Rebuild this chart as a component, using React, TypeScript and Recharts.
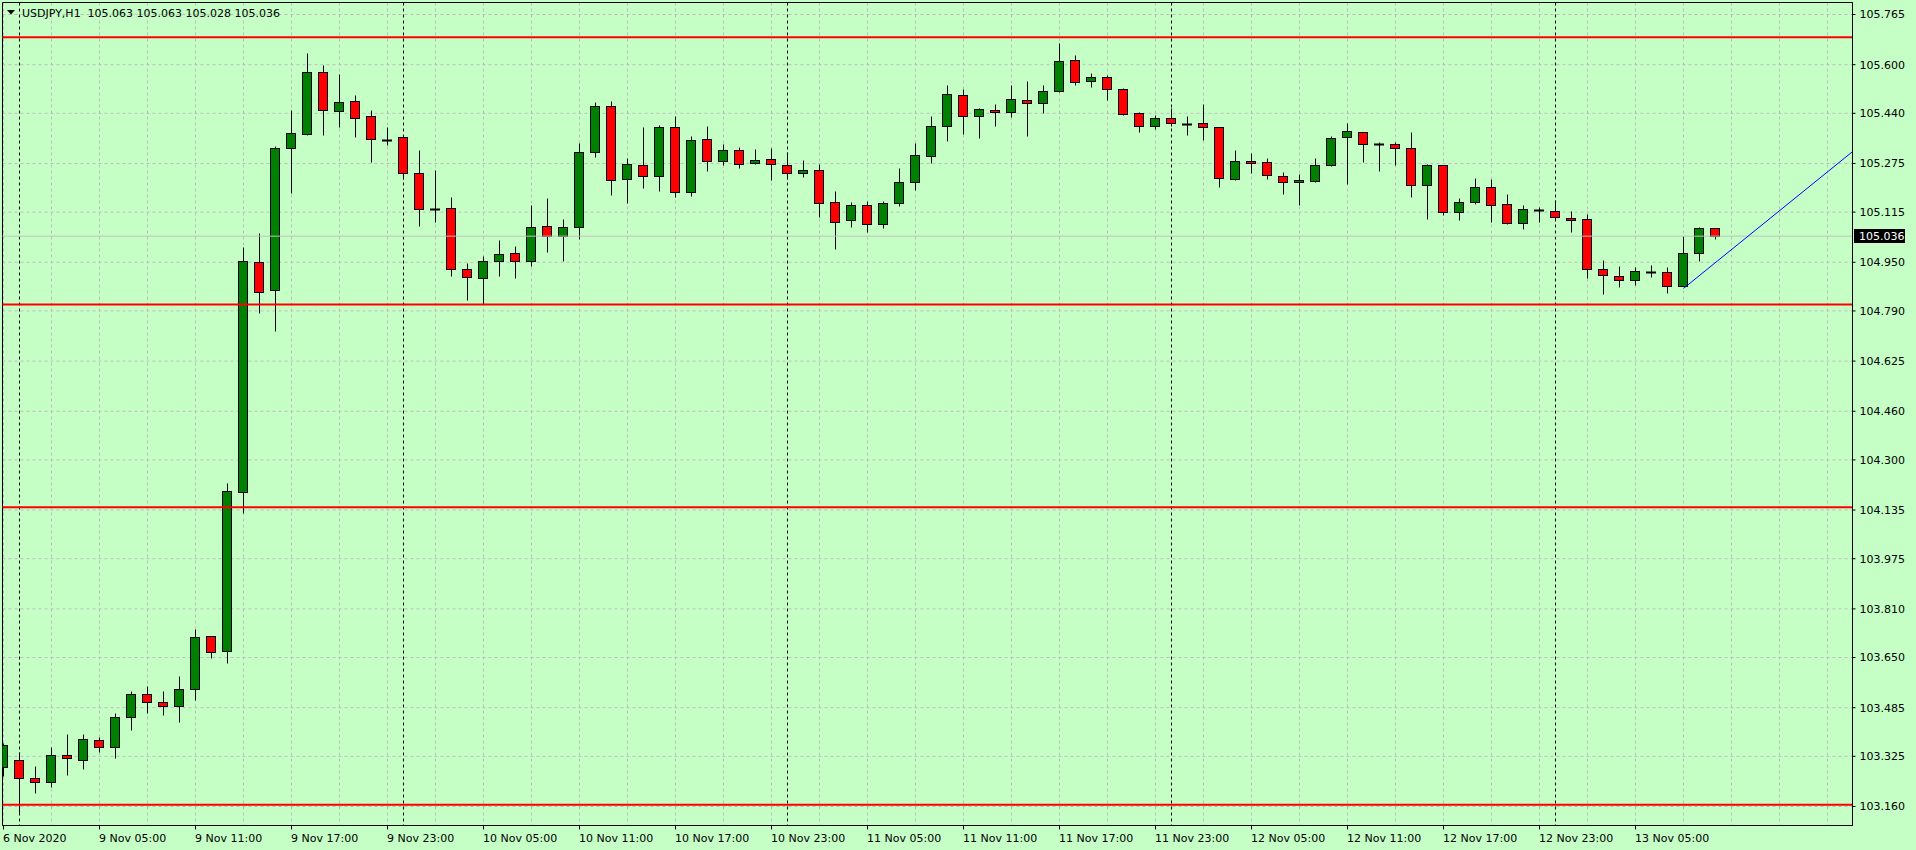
import React from 'react';
import {
  ComposedChart,
  Bar,
  XAxis,
  YAxis,
  CartesianGrid,
  ReferenceLine,
  ReferenceArea,
} from 'recharts';

// ---- chart identity ----
const symbol = 'USDJPY';
const timeframe = 'H1';

// ---- OHLC series, one H1 bar per hour from 6 Nov 23:00 to 13 Nov 10:00 ----
const opens = [
  103.289, 103.312, 103.253, 103.242, 103.328, 103.314, 103.378, 103.355, 103.453, 103.529,
  103.503, 103.49, 103.546, 103.72, 103.67, 104.193, 104.95, 104.858, 105.325, 105.373,
  105.575, 105.447, 105.479, 105.43, 105.353, 105.361, 105.243, 105.125, 105.128, 104.927,
  104.897, 104.953, 104.98, 104.953, 105.068, 105.037, 105.067, 105.312, 105.463, 105.225,
  105.269, 105.235, 105.394, 105.182, 105.355, 105.284, 105.318, 105.278, 105.289, 105.269,
  105.245, 105.253, 105.147, 105.088, 105.137, 105.075, 105.144, 105.213, 105.299, 105.397,
  105.499, 105.43, 105.45, 105.443, 105.483, 105.473, 105.512, 105.614, 105.545, 105.558,
  105.519, 105.44, 105.397, 105.424, 105.405, 105.407, 105.394, 105.223, 105.282, 105.279,
  105.233, 105.213, 105.216, 105.269, 105.361, 105.378, 105.338, 105.338, 105.325, 105.203,
  105.269, 105.116, 105.147, 105.197, 105.141, 105.078, 105.123, 105.118, 105.095, 105.091,
  104.927, 104.904, 104.891, 104.918, 104.917, 104.873, 104.98, 105.063,
];
const highs = [
  103.368, 103.338, 103.293, 103.356, 103.398, 103.398, 103.389, 103.468, 103.54, 103.556,
  103.54, 103.589, 103.744, 103.722, 104.223, 104.999, 105.045, 105.332, 105.451, 105.638,
  105.6, 105.569, 105.5, 105.451, 105.395, 105.363, 105.319, 105.254, 105.165, 104.948,
  104.97, 105.023, 105.004, 105.138, 105.161, 105.092, 105.342, 105.477, 105.48, 105.293,
  105.395, 105.402, 105.431, 105.365, 105.398, 105.339, 105.329, 105.323, 105.326, 105.312,
  105.286, 105.272, 105.184, 105.148, 105.152, 105.151, 105.26, 105.342, 105.431, 105.533,
  105.519, 105.457, 105.471, 105.533, 105.546, 105.533, 105.671, 105.632, 105.573, 105.565,
  105.522, 105.444, 105.434, 105.456, 105.43, 105.471, 105.396, 105.319, 105.309, 105.293,
  105.246, 105.239, 105.293, 105.364, 105.407, 105.38, 105.345, 105.345, 105.378, 105.272,
  105.271, 105.16, 105.226, 105.223, 105.174, 105.137, 105.131, 105.156, 105.118, 105.108,
  104.957, 104.937, 104.934, 104.94, 104.934, 105.035, 105.065, 105.063,
];
const lows = [
  103.261, 103.14, 103.205, 103.225, 103.265, 103.284, 103.339, 103.321, 103.413, 103.469,
  103.462, 103.439, 103.511, 103.649, 103.633, 104.124, 104.784, 104.725, 105.179, 105.37,
  105.37, 105.396, 105.363, 105.28, 105.336, 105.225, 105.07, 105.083, 104.906, 104.827,
  104.812, 104.906, 104.899, 104.939, 104.985, 104.955, 105.028, 105.297, 105.172, 105.146,
  105.195, 105.185, 105.166, 105.169, 105.251, 105.271, 105.261, 105.274, 105.222, 105.225,
  105.232, 105.1, 104.995, 105.067, 105.051, 105.064, 105.136, 105.189, 105.278, 105.35,
  105.372, 105.36, 105.399, 105.429, 105.366, 105.442, 105.51, 105.532, 105.526, 105.483,
  105.433, 105.38, 105.389, 105.398, 105.37, 105.353, 105.199, 105.221, 105.245, 105.225,
  105.176, 105.139, 105.214, 105.266, 105.208, 105.281, 105.251, 105.271, 105.166, 105.093,
  105.107, 105.09, 105.141, 105.084, 105.076, 105.06, 105.084, 105.089, 105.051, 104.899,
  104.847, 104.87, 104.874, 104.903, 104.85, 104.871, 104.955, 105.028,
];
const closes = [
  103.361, 103.253, 103.242, 103.328, 103.319, 103.381, 103.355, 103.453, 103.529, 103.503,
  103.49, 103.546, 103.717, 103.667, 104.197, 104.953, 104.853, 105.325, 105.374, 105.575,
  105.45, 105.476, 105.426, 105.355, 105.353, 105.245, 105.126, 105.125, 104.927, 104.901,
  104.953, 104.976, 104.953, 105.065, 105.037, 105.065, 105.312, 105.463, 105.222, 105.272,
  105.235, 105.394, 105.182, 105.351, 105.284, 105.318, 105.274, 105.285, 105.274, 105.245,
  105.253, 105.146, 105.082, 105.137, 105.075, 105.144, 105.213, 105.302, 105.397, 105.503,
  105.43, 105.453, 105.443, 105.486, 105.473, 105.512, 105.611, 105.542, 105.558, 105.519,
  105.437, 105.397, 105.424, 105.407, 105.405, 105.394, 105.226, 105.282, 105.276, 105.236,
  105.213, 105.22, 105.269, 105.358, 105.381, 105.338, 105.338, 105.325, 105.203, 105.269,
  105.116, 105.147, 105.197, 105.137, 105.078, 105.124, 105.123, 105.098, 105.088, 104.927,
  104.907, 104.891, 104.92, 104.918, 104.873, 104.98, 105.062, 105.036,
];
// hour index of each bar, counted from 9 Nov 2020 00:00 (first bar is 6 Nov 23:00)
const barHours = opens.map((_, i) => i - 1);

// ---- axis labels ----
const priceTicks = [
  103.16, 103.325, 103.485, 103.65, 103.81, 103.975, 104.135, 104.3, 104.46, 104.625,
  104.79, 104.95, 105.115, 105.275, 105.44, 105.6, 105.765,
];
const timeLabelHours = [-1, 5, 11, 17, 23, 29, 35, 41, 47, 53, 59, 65, 71, 77, 83, 89, 95, 101];
const timeLabels = [
  '6 Nov 2020', '9 Nov 05:00', '9 Nov 11:00', '9 Nov 17:00', '9 Nov 23:00',
  '10 Nov 05:00', '10 Nov 11:00', '10 Nov 17:00', '10 Nov 23:00',
  '11 Nov 05:00', '11 Nov 11:00', '11 Nov 17:00', '11 Nov 23:00',
  '12 Nov 05:00', '12 Nov 11:00', '12 Nov 17:00', '12 Nov 23:00', '13 Nov 05:00',
];
const gridHours = Array.from({ length: 39 }, (_, i) => -1 + 3 * i);
const daySeparators = [0, 24, 48, 72, 96];

// ---- drawn objects ----
const levelPrices = [105.69, 104.811, 104.144, 103.166];
const trendHours = [104, 114.5625];
const trendPrices = [104.864, 105.314];

// ---- visible window ----
const hourDomain: [number, number] = [-1.0625, 114.5625];
const priceDomain: [number, number] = [103.0975, 105.8045];

const last = opens.length - 1;
const lastClose = closes[last];

const data = barHours.map((k, i) => ({
  k,
  o: opens[i],
  h: highs[i],
  l: lows[i],
  c: closes[i],
  range: [lows[i], highs[i]],
}));

const FONT = 'DejaVu Sans, Verdana, sans-serif';
const BG = '#c6ffc6';

const Candle = (props: any) => {
  const { x, y, width, height, payload } = props;
  if (x == null || y == null || !payload) return null;
  const { o, h, l, c } = payload;
  const span = h - l || 1e-9;
  const yOf = (v: number) => y + ((h - v) / span) * height;
  const snap = (v: number) => Math.round(v) + 0.5;
  const cx = Math.floor(x + width / 2) + 0.5;
  const yh = snap(yOf(h));
  const yl = snap(yOf(l));
  const yTop = snap(yOf(Math.max(o, c)));
  const yBot = snap(yOf(Math.min(o, c)));
  const up = c > o;
  return (
    <g>
      <line x1={cx} x2={cx} y1={yh} y2={yl} stroke="#000" strokeWidth={1} />
      {yBot - yTop >= 1 ? (
        <rect
          x={cx - 5}
          y={yTop}
          width={9}
          height={yBot - yTop}
          fill={up ? '#008000' : '#ff0000'}
          stroke="#000"
          strokeWidth={1}
        />
      ) : (
        <line x1={cx - 5.5} x2={cx + 4.5} y1={yTop} y2={yTop} stroke="#000" strokeWidth={2} />
      )}
    </g>
  );
};

const XTick = (props: any) => {
  const { x, y, payload } = props;
  const idx = timeLabelHours.indexOf(payload?.value);
  if (idx < 0) return <g />;
  const xx = Math.floor(x) + 0.5;
  return (
    <g>
      <line x1={xx} x2={xx} y1={y} y2={y + 4} stroke="#000" strokeWidth={1} />
      <text x={xx - 0.5} y={y + 16} fontSize={11} fontFamily={FONT} fill="#000" textAnchor="start">
        {timeLabels[idx]}
      </text>
    </g>
  );
};

const PriceTag = (props: any) => {
  const vb = props.viewBox || {};
  const right = (vb.x ?? 0) + (vb.width ?? 0);
  const yy = vb.y ?? 0;
  return (
    <g>
      <rect x={right + 1.5} y={Math.round(yy) - 7} width={51} height={14} fill="#000" />
      <text x={right + 6.5} y={yy} dy="0.36em" fill="#fff" fontSize={11} fontFamily={FONT}>
        {lastClose.toFixed(3)}
      </text>
    </g>
  );
};

export default function App() {
  const title = `${symbol},${timeframe}  ${opens[last].toFixed(3)} ${highs[last].toFixed(3)} ${lows[last].toFixed(3)} ${closes[last].toFixed(3)}`;
  return (
    <div
      style={{
        position: 'absolute',
        left: 0,
        top: 0,
        width: 1916,
        height: 850,
        background: BG,
        overflow: 'hidden',
        fontFamily: FONT,
      }}
    >
      <ComposedChart
        width={1916}
        height={850}
        data={data}
        margin={{ top: 2.5, right: 0, bottom: 0, left: 2.5 }}
      >
        <CartesianGrid stroke="#bdbdbd" strokeDasharray="3 3" />
        <CartesianGrid
          horizontal={false}
          verticalValues={daySeparators}
          stroke="#000"
          strokeDasharray="3 3"
        />
        <XAxis
          dataKey="k"
          type="number"
          domain={hourDomain}
          allowDataOverflow
          ticks={gridHours}
          interval={0}
          height={24.5}
          tickSize={0}
          tickMargin={0}
          tickLine={false}
          axisLine={{ stroke: '#000' }}
          tick={(p: any) => <XTick {...p} />}
        />
        <YAxis
          type="number"
          orientation="right"
          width={63.5}
          domain={priceDomain}
          allowDataOverflow
          ticks={priceTicks}
          interval={0}
          tickFormatter={(v: number) => v.toFixed(3)}
          tickSize={3}
          tickMargin={4}
          tickLine={{ stroke: '#000' }}
          axisLine={{ stroke: '#000' }}
          tick={{ fontSize: 11, fontFamily: FONT, fill: '#000' }}
        />
        <ReferenceLine y={lastClose} stroke="#c0c0c0" strokeWidth={1} label={(p: any) => <PriceTag {...p} />} />
        <Bar
          dataKey="range"
          barSize={10}
          isAnimationActive={false}
          shape={(p: any) => <Candle {...p} />}
        />
        {levelPrices.map((v) => (
          <ReferenceLine key={`lvl${v}`} y={v} stroke="#ff0000" strokeWidth={2} />
        ))}
        <ReferenceLine
          segment={[
            { x: trendHours[0], y: trendPrices[0] },
            { x: trendHours[1], y: trendPrices[1] },
          ]}
          stroke="#0000ff"
          strokeWidth={1}
          ifOverflow="visible"
        />
        <ReferenceArea
          x1={hourDomain[0]}
          x2={hourDomain[1]}
          y1={priceDomain[0]}
          y2={priceDomain[1]}
          fill="none"
          fillOpacity={0}
          stroke="#000"
          strokeWidth={1}
          ifOverflow="visible"
        />
      </ComposedChart>
      <svg style={{ position: 'absolute', left: 0, top: 0 }} width={420} height={24}>
        <polygon points="7,10 15,10 11,14.5" fill="#000" />
        <text x={22} y={17} fontSize={11} fontFamily={FONT} fill="#000" style={{ whiteSpace: 'pre' }}>
          {title}
        </text>
      </svg>
    </div>
  );
}
